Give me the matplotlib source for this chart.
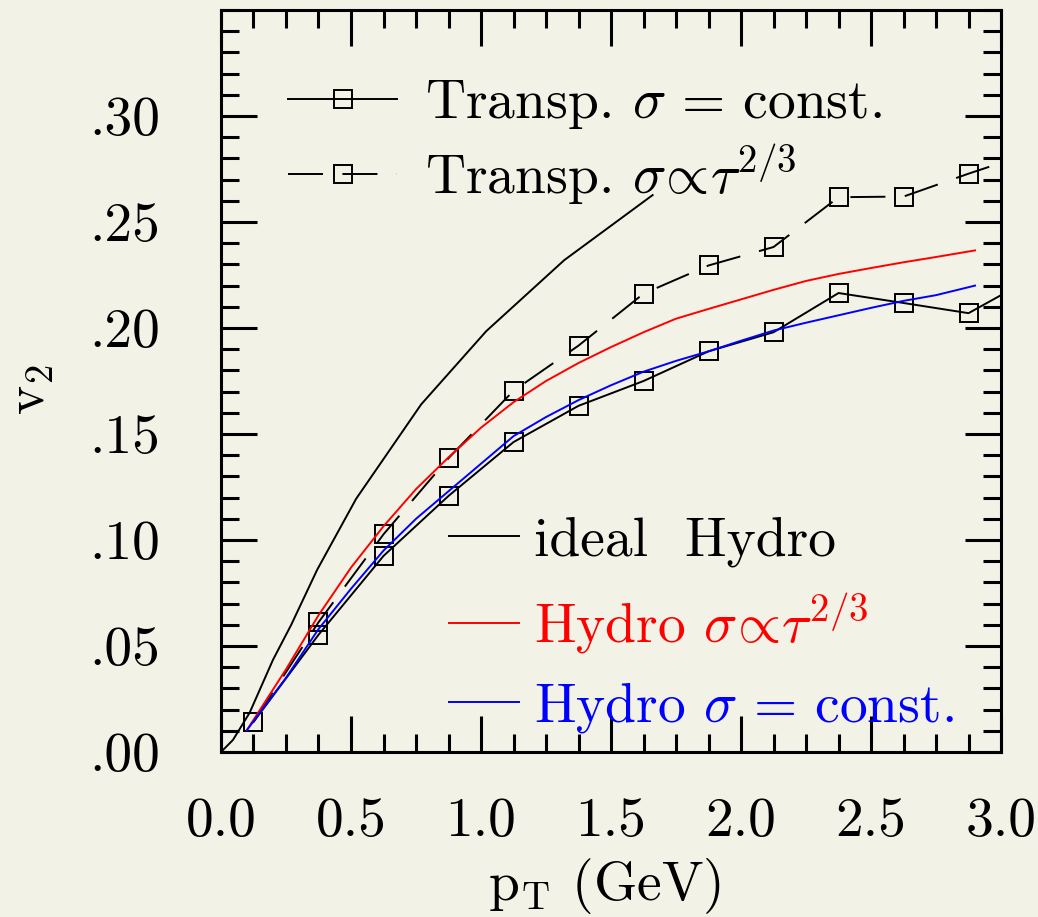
import numpy as np
import matplotlib.pyplot as plt
from matplotlib.ticker import MultipleLocator, FixedLocator, FixedFormatter

plt.rcParams['font.family'] = 'cmr10'
plt.rcParams['mathtext.fontset'] = 'cm'
plt.rcParams['axes.formatter.use_mathtext'] = True

# transport results (markers), last point lies past the right edge and gets clipped
pt_transp = [0.125, 0.375, 0.625, 0.875, 1.125, 1.375, 1.625, 1.875, 2.125, 2.375, 2.625, 2.875, 3.125]
v2_transp_const = [0.0142, 0.0553, 0.0925, 0.1208, 0.1462, 0.1633, 0.175, 0.189, 0.198, 0.2165, 0.2118, 0.207, 0.224]
v2_transp_tau = [0.0142, 0.0612, 0.1027, 0.1386, 0.1704, 0.1917, 0.2162, 0.2295, 0.2382, 0.2617, 0.262, 0.2728, 0.283]

# hydro curves
pt_ideal = [0.0, 0.046, 0.11, 0.2, 0.27, 0.37, 0.52, 0.77, 1.02, 1.32, 1.66]
v2_ideal = [0.0, 0.0057, 0.0185, 0.0435, 0.060, 0.086, 0.1195, 0.164, 0.1985, 0.232, 0.2627]

pt_hydro = [0.1, 0.25, 0.375, 0.5, 0.625, 0.75, 0.875, 1.0, 1.125, 1.25, 1.375, 1.5, 1.625,
            1.75, 1.875, 2.0, 2.125, 2.25, 2.375, 2.5, 2.625, 2.75, 2.9]
v2_hydro_tau = [0.0104, 0.039, 0.0645, 0.087, 0.1065, 0.124, 0.139, 0.153, 0.165, 0.175, 0.1835,
                0.191, 0.198, 0.2044, 0.209, 0.2135, 0.218, 0.2222, 0.2255, 0.2283, 0.231, 0.2335, 0.2366]
v2_hydro_const = [0.0104, 0.035, 0.058, 0.077, 0.095, 0.110, 0.123, 0.136, 0.149, 0.158, 0.166,
                  0.173, 0.1794, 0.1845, 0.189, 0.194, 0.1988, 0.2025, 0.206, 0.2095, 0.2128, 0.2155, 0.220]

xticks = [0.0, 0.5, 1.0, 1.5, 2.0, 2.5, 3.0]
xtick_labels = ['0.0', '0.5', '1.0', '1.5', '2.0', '2.5', '3.0']
yticks = [0.0, 0.05, 0.10, 0.15, 0.20, 0.25, 0.30]
ytick_labels = ['.00', '.05', '.10', '.15', '.20', '.25', '.30']

bg = '#f2f2e6'
fs = 40

fig = plt.figure(figsize=(10.38, 9.17), dpi=100, facecolor=bg)
ax = fig.add_axes([0.2129, 0.1799, 0.7515, 0.8092])
ax.set_facecolor(bg)

l1, = ax.plot(pt_transp, v2_transp_const, color='black', lw=1.4, marker='s', ms=13.5,
              mfc='none', mec='black', mew=1.4, label=r'Transp. $\sigma\,=\,$const.')
l2, = ax.plot(pt_transp, v2_transp_tau, color='black', lw=1.4, dashes=[18, 10], marker='s', ms=13.5,
              mfc='none', mec='black', mew=1.4, label=r'Transp. $\sigma\!\propto\!\tau^{2/3}$')
l3, = ax.plot(pt_ideal, v2_ideal, color='black', lw=1.4, label='ideal  Hydro')
l4, = ax.plot(pt_hydro, v2_hydro_tau, color='red', lw=1.4, label=r'Hydro $\sigma\!\propto\!\tau^{2/3}$')
l5, = ax.plot(pt_hydro, v2_hydro_const, color='blue', lw=1.4, label=r'Hydro $\sigma\,=\,$const.')

ax.set_xlim(0, 3.0)
ax.set_ylim(0, 0.35)

ax.xaxis.set_major_locator(FixedLocator(xticks))
ax.xaxis.set_major_formatter(FixedFormatter(xtick_labels))
ax.xaxis.set_minor_locator(MultipleLocator(0.125))
ax.yaxis.set_major_locator(FixedLocator(yticks))
ax.yaxis.set_major_formatter(FixedFormatter(ytick_labels))
ax.yaxis.set_minor_locator(MultipleLocator(0.01))

ax.tick_params(which='both', direction='in', top=True, right=True, width=2.2, colors='black')
ax.tick_params(which='major', length=26, labelsize=fs)
ax.tick_params(which='minor', length=13)
ax.tick_params(axis='x', which='major', pad=33)
ax.tick_params(axis='y', which='major', pad=44)
for s in ax.spines.values():
    s.set_linewidth(2.2)

ax.set_xlabel(r'$\mathrm{p}_\mathrm{T}$ (GeV)', fontsize=fs)
ax.xaxis.set_label_coords(0.492, -0.14)
ax.set_ylabel(r'$\mathrm{v}_2$', fontsize=fs)
ax.yaxis.set_label_coords(-0.212, 0.488)

leg1 = ax.legend(handles=[l1, l2], loc='upper left', bbox_to_anchor=(0.086, 0.908),
                 frameon=False, fontsize=fs, handlelength=1.96, handletextpad=0.5,
                 borderpad=0, borderaxespad=0, labelspacing=0.16, numpoints=1)
ax.add_artist(leg1)
ax.legend(handles=[l3, l4, l5], loc='upper left', bbox_to_anchor=(0.292, 0.318),
          frameon=False, fontsize=fs, handlelength=1.26, handletextpad=0.28,
          borderpad=0, borderaxespad=0, labelspacing=0.42,
          labelcolor=['black', 'red', 'blue'])

fig.savefig('out.png', dpi=100, facecolor=bg)
